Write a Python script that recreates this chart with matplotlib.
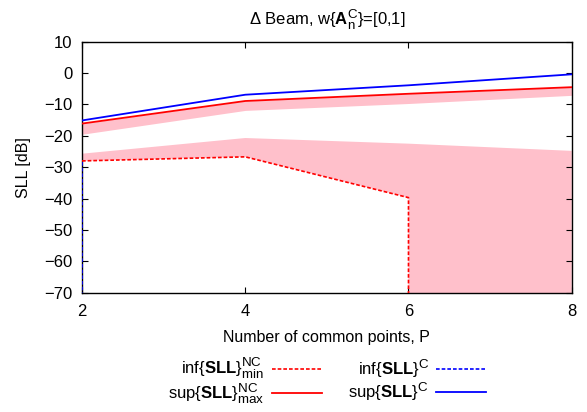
import matplotlib
matplotlib.use("Agg")
import matplotlib.pyplot as plt
import matplotlib._mathtext as _mt

plt.rcParams['font.family'] = ['Liberation Sans', 'DejaVu Sans']
plt.rcParams['mathtext.fontset'] = 'custom'
plt.rcParams['mathtext.rm'] = 'Liberation Sans'
plt.rcParams['mathtext.bf'] = 'Liberation Sans:bold'
plt.rcParams['mathtext.it'] = 'Liberation Sans:italic'
# slightly larger super/subscripts
_mt.SHRINK_FACTOR = 0.8

# Number of common points
P = [2, 4, 6, 8]
# Upper SLL bounds [dB]
sup_nc_max = [-16.1, -8.9, -6.6, -4.5]
sup_c = [-15.1, -6.9, -3.9, -0.4]
# Lower edge of the upper shaded region [dB]
upper_band_low = [-19.5, -11.9, -9.7, -7.1]

# Lower bound of the non-common case; it falls to the floor at P=6
P_inf_nc = [2, 4, 6, 6, 8]
inf_nc_min = [-28.0, -26.7, -39.7, -300.0, -300.0]
lower_band_high = [-25.7, -20.7, -22.5, -22.5, -24.8]

# Lower bound of the common case; it is at the floor from P=2 on
P_inf_c = [2, 2, 4, 6, 8]
inf_c = [-28.5, -300.0, -300.0, -300.0, -300.0]

x_ticks = [2, 4, 6, 8]
y_ticks = [10, 0, -10, -20, -30, -40, -50, -60, -70]

fig = plt.figure(figsize=(5.87, 4.12), dpi=100)
ax = fig.add_axes([0.1397, 0.2896, 0.974 - 0.1397, 0.8988 - 0.2896])

pink = '#ffc0cb'
ax.fill_between(P, upper_band_low, sup_nc_max, color=pink, lw=0, zorder=1)
ax.fill_between(P_inf_nc, inf_nc_min, lower_band_high, color=pink, lw=0, zorder=1)

dash = (0, (2.2, 1.2))
l1, = ax.plot(P_inf_nc, inf_nc_min, color='#ff0000', lw=1.2, linestyle=dash, zorder=3)
l2, = ax.plot(P, sup_nc_max, color='#ff0000', lw=1.3, zorder=3)
l3, = ax.plot(P_inf_c, inf_c, color='#0000ff', lw=1.2, linestyle=dash, zorder=3)
l4, = ax.plot(P, sup_c, color='#0000ff', lw=1.3, zorder=3)

ax.set_xlim(2, 8)
ax.set_ylim(-70, 10)
ax.set_xticks(x_ticks)
ax.set_yticks(y_ticks)
ax.tick_params(direction='in', length=4, width=0.8, top=True, right=True,
               labelsize=12, pad=7, colors='black')
ax.tick_params(axis='x', pad=8)
for s in ax.spines.values():
    s.set_linewidth(1.0)

ax.set_xlabel('Number of common points, P', fontsize=11.5, labelpad=8)
ax.set_ylabel('SLL [dB]', fontsize=11.5, labelpad=9)
ax.set_title(r'$\Delta$ Beam, w{$\mathbf{A}_{\rm n}^{\rm C}$}=[0,1]', fontsize=12, pad=12)

labels = [r'inf{$\mathbf{SLL}$}$^{\rm NC}_{\rm min}$',
          r'sup{$\mathbf{SLL}$}$^{\rm NC}_{\rm max}$',
          r'inf{$\mathbf{SLL}$}$^{\rm C}$',
          r'sup{$\mathbf{SLL}$}$^{\rm C}$']
fig.legend([l1, l2, l3, l4], labels, ncol=2, markerfirst=False, frameon=False,
           loc='center', bbox_to_anchor=(0.557, 0.076), fontsize=12,
           handlelength=3.0, handletextpad=0.45, columnspacing=1.6,
           labelspacing=0.0)

fig.savefig('out.png', dpi=100)
